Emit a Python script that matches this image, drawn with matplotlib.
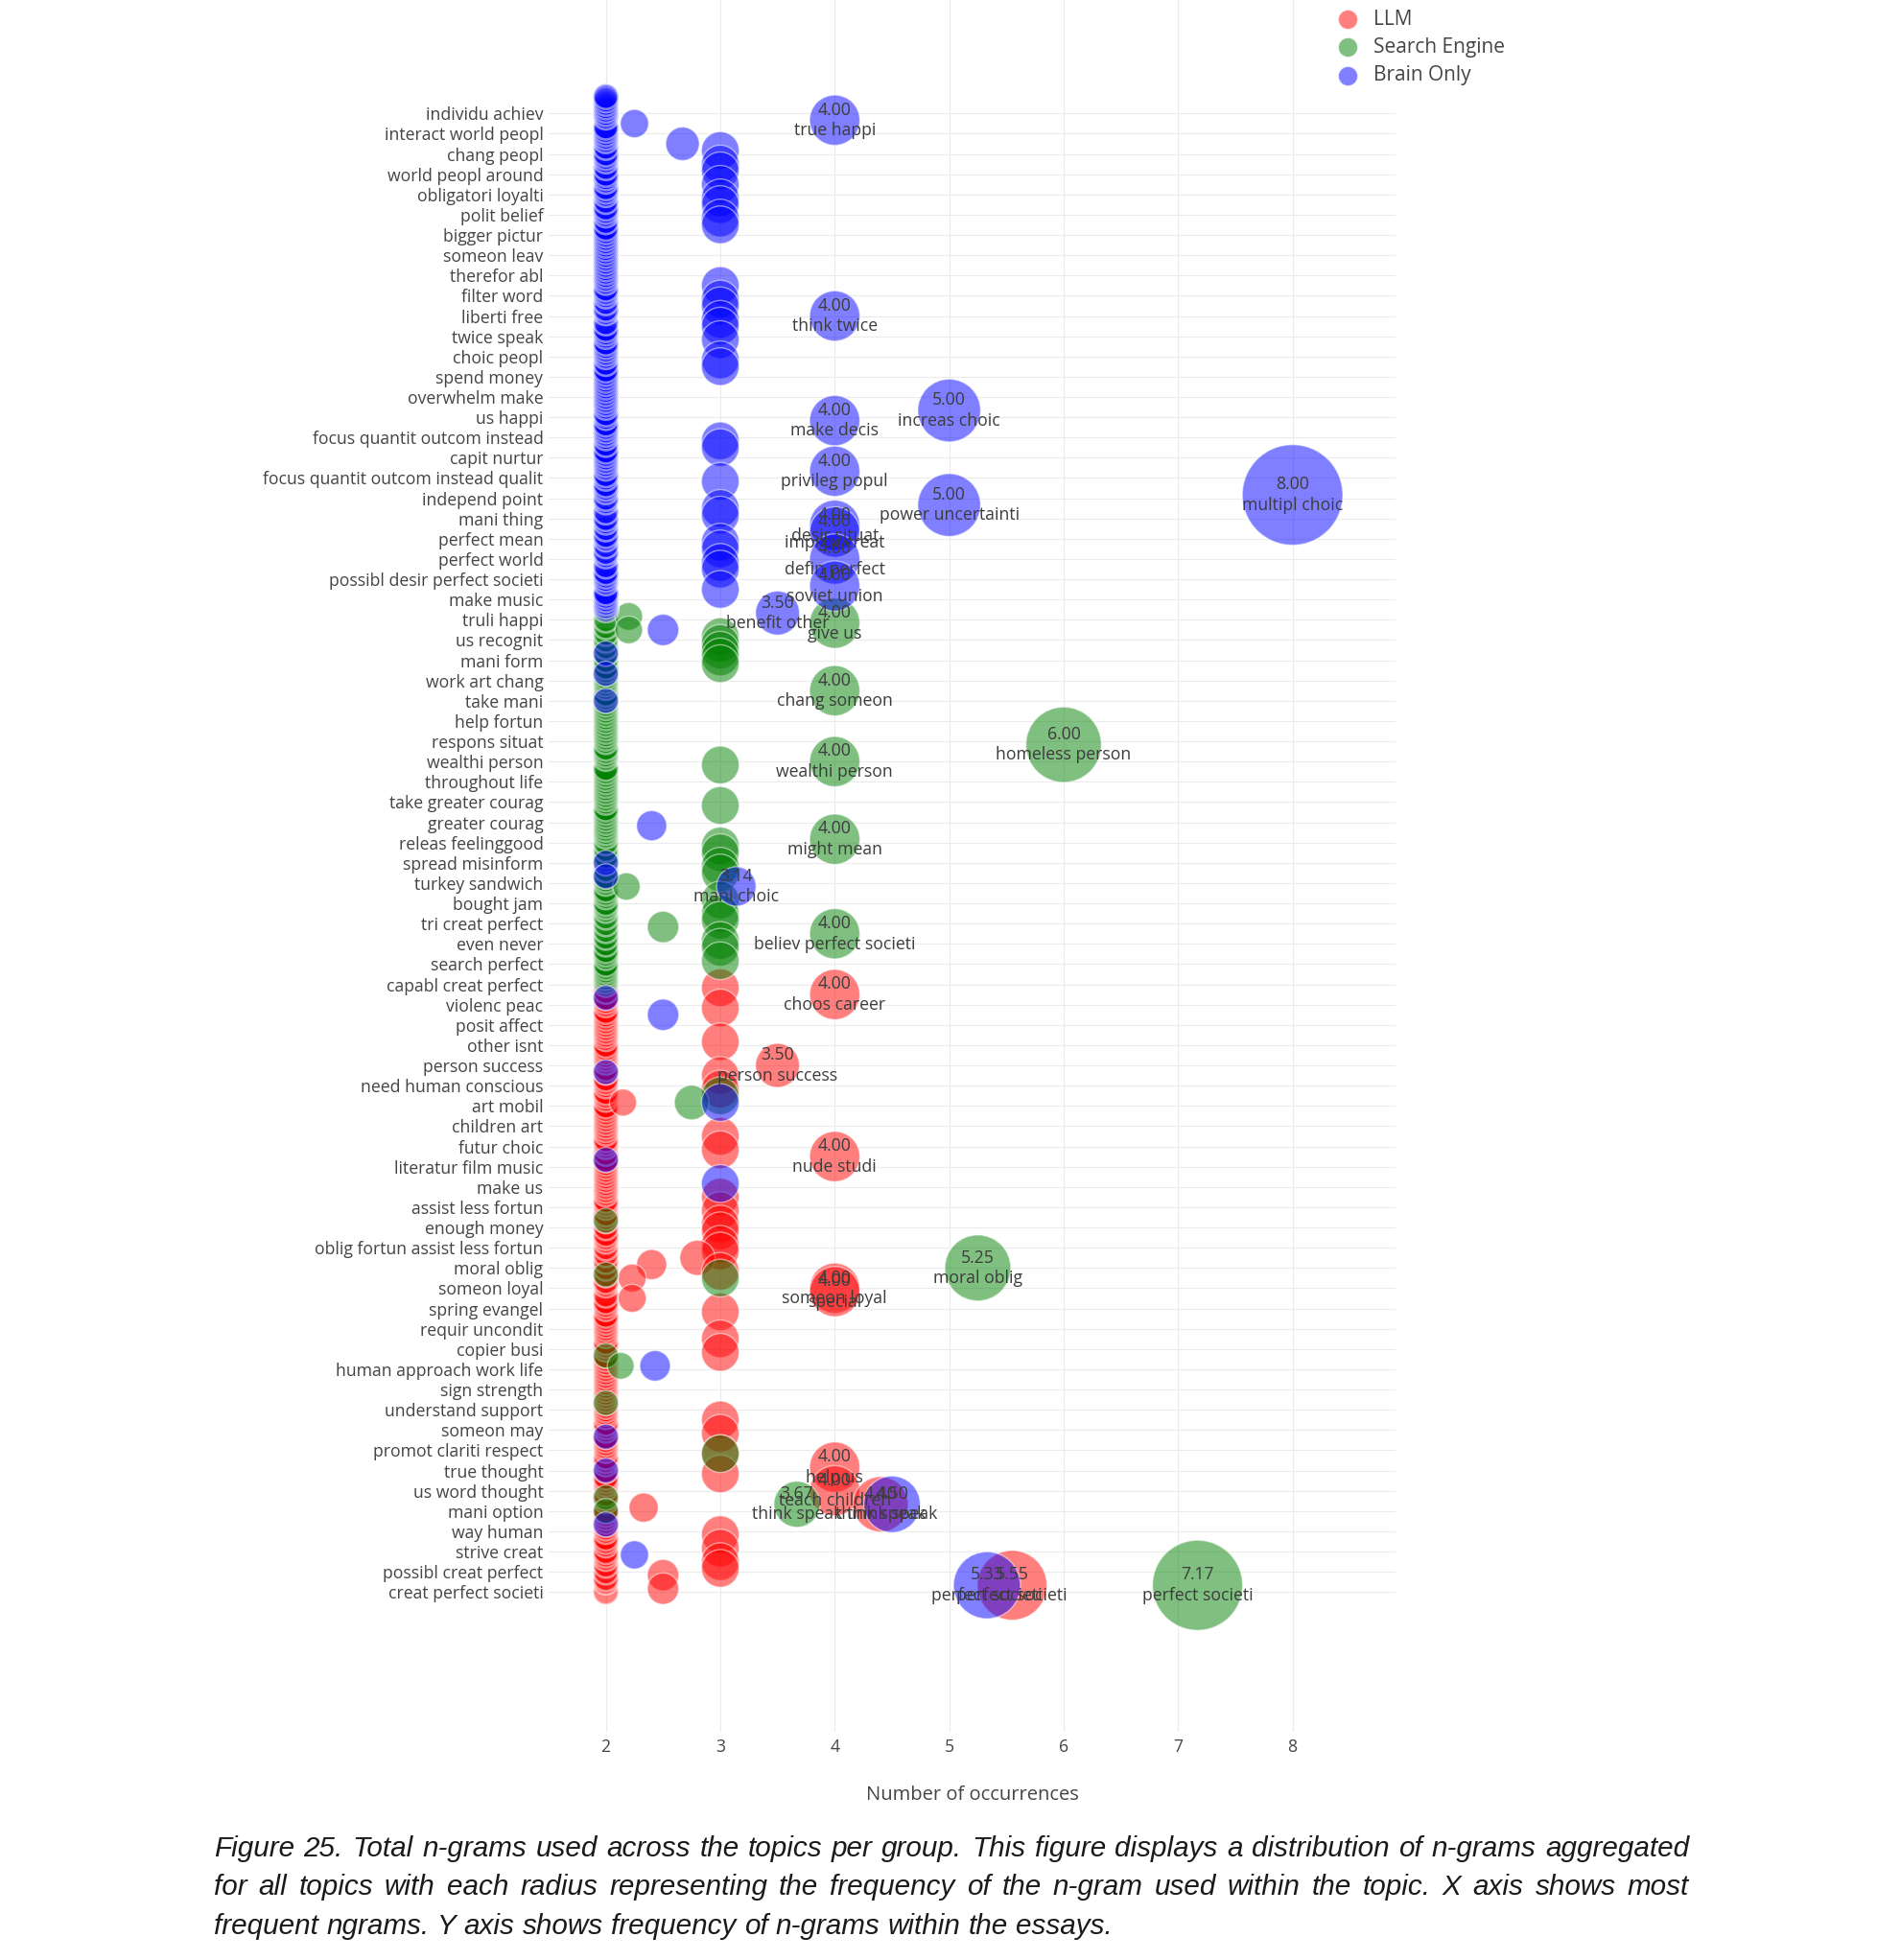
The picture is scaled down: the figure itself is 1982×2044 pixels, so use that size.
import numpy as np
import matplotlib.pyplot as plt

W, H, DPI = 1982, 2044, 100

# y axis: n-gram slots counted from the bottom; plotly only labels every 6th slot
n_slots = 444
label_step = 6
tick_labels = [
    "creat perfect societi", "possibl creat perfect", "strive creat", "way human",
    "mani option", "us word thought", "true thought", "promot clariti respect",
    "someon may", "understand support", "sign strength", "human approach work life",
    "copier busi", "requir uncondit", "spring evangel", "someon loyal", "moral oblig",
    "oblig fortun assist less fortun", "enough money", "assist less fortun", "make us",
    "literatur film music", "futur choic", "children art", "art mobil",
    "need human conscious", "person success", "other isnt", "posit affect",
    "violenc peac", "capabl creat perfect", "search perfect", "even never",
    "tri creat perfect", "bought jam", "turkey sandwich", "spread misinform",
    "releas feelinggood", "greater courag", "take greater courag", "throughout life",
    "wealthi person", "respons situat", "help fortun", "take mani", "work art chang",
    "mani form", "us recognit", "truli happi", "make music",
    "possibl desir perfect societi", "perfect world", "perfect mean", "mani thing",
    "independ point", "focus quantit outcom instead qualit", "capit nurtur",
    "focus quantit outcom instead", "us happi", "overwhelm make", "spend money",
    "choic peopl", "twice speak", "liberti free", "filter word", "therefor abl",
    "someon leav", "bigger pictur", "polit belief", "obligatori loyalti",
    "world peopl around", "chang peopl", "interact world peopl", "individu achiev",
]

groups = ["LLM", "Search Engine", "Brain Only"]
group_colors = ["red", "green", "blue"]

# ---- LLM ----
llm_col = (0, 179)            # slots whose n-gram was used twice
llm_col_extra = []
llm_rows = [179, 173, 163, 153, 149, 145, 135, 131, 117, 113, 109, 107, 103, 101, 99, 97,
            95, 93, 87, 83, 75, 71, 51, 47, 41, 35, 25, 17, 13, 9, 7, 5, 1]
llm_vals = [3, 3, 3, 3, 3, 2.15, 3, 3, 3, 3, 3, 3, 3, 3, 2.8, 2.4,
            3, 2.23, 2.23, 3, 3, 3, 3, 3, 3, 3, 2.33, 3, 3, 3, 3, 2.5, 2.5]
llm_names = ["choos career", "person success", "nude studi", "someon loyal", "special",
             "help us", "teach children", "think speak", "perfect societi"]
llm_name_rows = [177, 156, 129, 90, 89, 37, 30, 26, 2]
llm_name_vals = [4.0, 3.5, 4.0, 4.0, 4.0, 4.0, 4.0, 4.4, 5.55]

# ---- Search Engine ----
search_col = (180, 289)
search_col_extra = [110, 94, 70, 56, 28, 24]
search_rows = [289, 285, 283, 281, 279, 277, 275, 245, 233, 221, 219, 215, 213, 209,
               205, 201, 199, 197, 193, 191, 187, 147, 145, 93, 67, 41]
search_vals = [2.2, 2.2, 3, 3, 3, 3, 3, 3, 3, 3, 3, 3, 3, 2.18,
               3, 3, 3, 2.5, 3, 3, 3, 3, 2.75, 3, 2.13, 3]
search_names = ["give us", "chang someon", "homeless person", "wealthi person",
                "might mean", "believ perfect societi", "moral oblig", "think speak",
                "perfect societi"]
search_name_rows = [287, 267, 251, 246, 223, 195, 96, 26, 2]
search_name_vals = [4.0, 4.0, 6.0, 4.0, 4.0, 4.0, 5.25, 3.67, 7.17]

# ---- Brain Only ----
brain_col = (290, 443)
brain_col_extra = [278, 272, 264, 216, 212, 176, 154, 128, 46, 36, 20]
brain_rows = [435, 429, 427, 423, 421, 417, 413, 411, 407, 405, 387, 383, 381, 377,
              375, 371, 365, 363, 341, 339, 329, 321, 319, 311, 309, 305, 303, 297,
              285, 227, 171, 145, 121, 67, 11]
brain_vals = [2.25, 2.67, 3, 3, 3, 3, 3, 3, 3, 3, 3, 3, 3, 3,
              3, 3, 3, 3, 3, 3, 3, 3, 3, 3, 3, 3, 3, 3,
              2.5, 2.4, 2.5, 3, 3, 2.43, 2.25]
brain_names = ["true happi", "think twice", "increas choic", "make decis",
               "privileg popul", "multipl choic", "power uncertainti", "desir situat",
               "improv creat", "defin perfect", "soviet union", "benefit other",
               "mani choic", "think speak", "perfect societi"]
brain_name_rows = [436, 378, 350, 347, 332, 325, 322, 316, 314, 306, 298, 290, 209, 26, 2]
brain_name_vals = [4.0, 4.0, 5.0, 4.0, 4.0, 8.0, 5.0, 4.0, 4.0, 4.0, 4.0, 3.5, 3.14, 4.5, 5.33]

caption = [
    "Figure 25. Total n-grams used across the topics per group. This figure displays a distribution of n-grams aggregated",
    "for all topics with each radius representing the frequency of the n-gram used within the topic. X axis shows most",
    "frequent ngrams. Y axis shows frequency of n-grams within the essays.",
]

plt.rcParams['font.family'] = ['Open Sans', 'DejaVu Sans']

fig = plt.figure(figsize=(W / DPI, H / DPI), dpi=DPI)
ax_left, ax_right, ax_bottom_px = 572, 1455, 1806
ax = fig.add_axes([ax_left / W, 1 - ax_bottom_px / H, (ax_right - ax_left) / W, ax_bottom_px / H])

def size_of(v):
    # plotly sizemode="diameter": diameter grows linearly with the value
    d_px = 13.1 * np.asarray(v, dtype=float)
    return (d_px * 72 / DPI) ** 2

data = [
    (llm_col, llm_col_extra, llm_rows, llm_vals, llm_names, llm_name_rows, llm_name_vals),
    (search_col, search_col_extra, search_rows, search_vals, search_names, search_name_rows, search_name_vals),
    (brain_col, brain_col_extra, brain_rows, brain_vals, brain_names, brain_name_rows, brain_name_vals),
]

for gi, (col, extra, rows, vals, names, nrows, nvals) in enumerate(data):
    taken = set(rows) | set(nrows)
    two_rows = [r for r in range(col[0], col[1] + 1) if r not in taken]
    # dense stack of 2-occurrence n-grams; white rims keep it light like the plotly render
    ax.scatter([2.0] * len(two_rows), two_rows, s=size_of([2.0] * len(two_rows)),
               color=group_colors[gi], alpha=0.5, edgecolors='white', linewidths=1.9,
               zorder=2 + gi)
    xs = [2.0] * len(extra) + list(vals) + list(nvals)
    ys = list(extra) + list(rows) + list(nrows)
    ax.scatter(xs, ys, s=size_of(xs), color=group_colors[gi], alpha=0.5,
               edgecolors='white', linewidths=1.0, zorder=2 + gi)

for gi, (col, extra, rows, vals, names, nrows, nvals) in enumerate(data):
    for name, r, v in zip(names, nrows, nvals):
        ax.text(v, r, f"{v:.2f}\n{name}", ha='center', va='center', fontsize=12.7,
                color='#3c3c3c', linespacing=1.25, zorder=10)

ax.set_xlim(1.5, 8.9)
ax.set_ylim(-41.4, 471.6)
ax.set_xticks(range(2, 9))
ax.set_yticks(range(0, label_step * len(tick_labels), label_step))
ax.set_yticklabels(tick_labels)
ax.tick_params(axis='both', length=0, labelsize=12.7, labelcolor='#444444')
ax.tick_params(axis='y', pad=4)
ax.tick_params(axis='x', pad=5)
ax.grid(True, color='#ebebeb', linewidth=0.8, zorder=0)
ax.set_axisbelow(True)
for sp in ax.spines.values():
    sp.set_visible(False)

fig.text((ax_left + ax_right) / 2 / W, 1 - 1872 / H, "Number of occurrences",
         ha='center', va='center', fontsize=14.5, color='#444444')

# legend (plotly style, top right)
lax = fig.add_axes([0, 0, 1, 1])
lax.set_xlim(0, W)
lax.set_ylim(H, 0)
lax.axis('off')
for gi, g in enumerate(groups):
    yy = 20 + gi * 29.3
    lax.scatter([1405], [yy], s=(20 * 72 / DPI) ** 2, color=group_colors[gi], alpha=0.5,
                edgecolors='white', linewidths=0.8)
    lax.text(1432, yy, g, ha='left', va='center', fontsize=15, color='#444444')

# caption, justified like the paper
cap_kw = dict(fontsize=20, style='italic', family='Liberation Sans', color='#1a1a1a')
renderer = fig.canvas.get_renderer()

def text_width(s, **kw):
    t = fig.text(0, 0, s, **kw)
    w = t.get_window_extent(renderer).width
    t.remove()
    return w

scale = 934 / text_width(caption[2], **cap_kw)
cap_kw['fontsize'] = 20 * scale
x0, x1 = 223, 1761
space = text_width("a a", **cap_kw) - text_width("aa", **cap_kw)
for li, line in enumerate(caption):
    words = line.split()
    widths = [text_width(w, **cap_kw) for w in words]
    if li < len(caption) - 1:
        gap = (x1 - x0 - sum(widths)) / (len(words) - 1)
    else:
        gap = space
    x = x0
    yy = 1928 + li * 40.4
    for w, wd in zip(words, widths):
        fig.text(x / W, 1 - yy / H, w, ha='left', va='center', **cap_kw)
        x += wd + gap

fig.savefig("out.png", dpi=DPI)
